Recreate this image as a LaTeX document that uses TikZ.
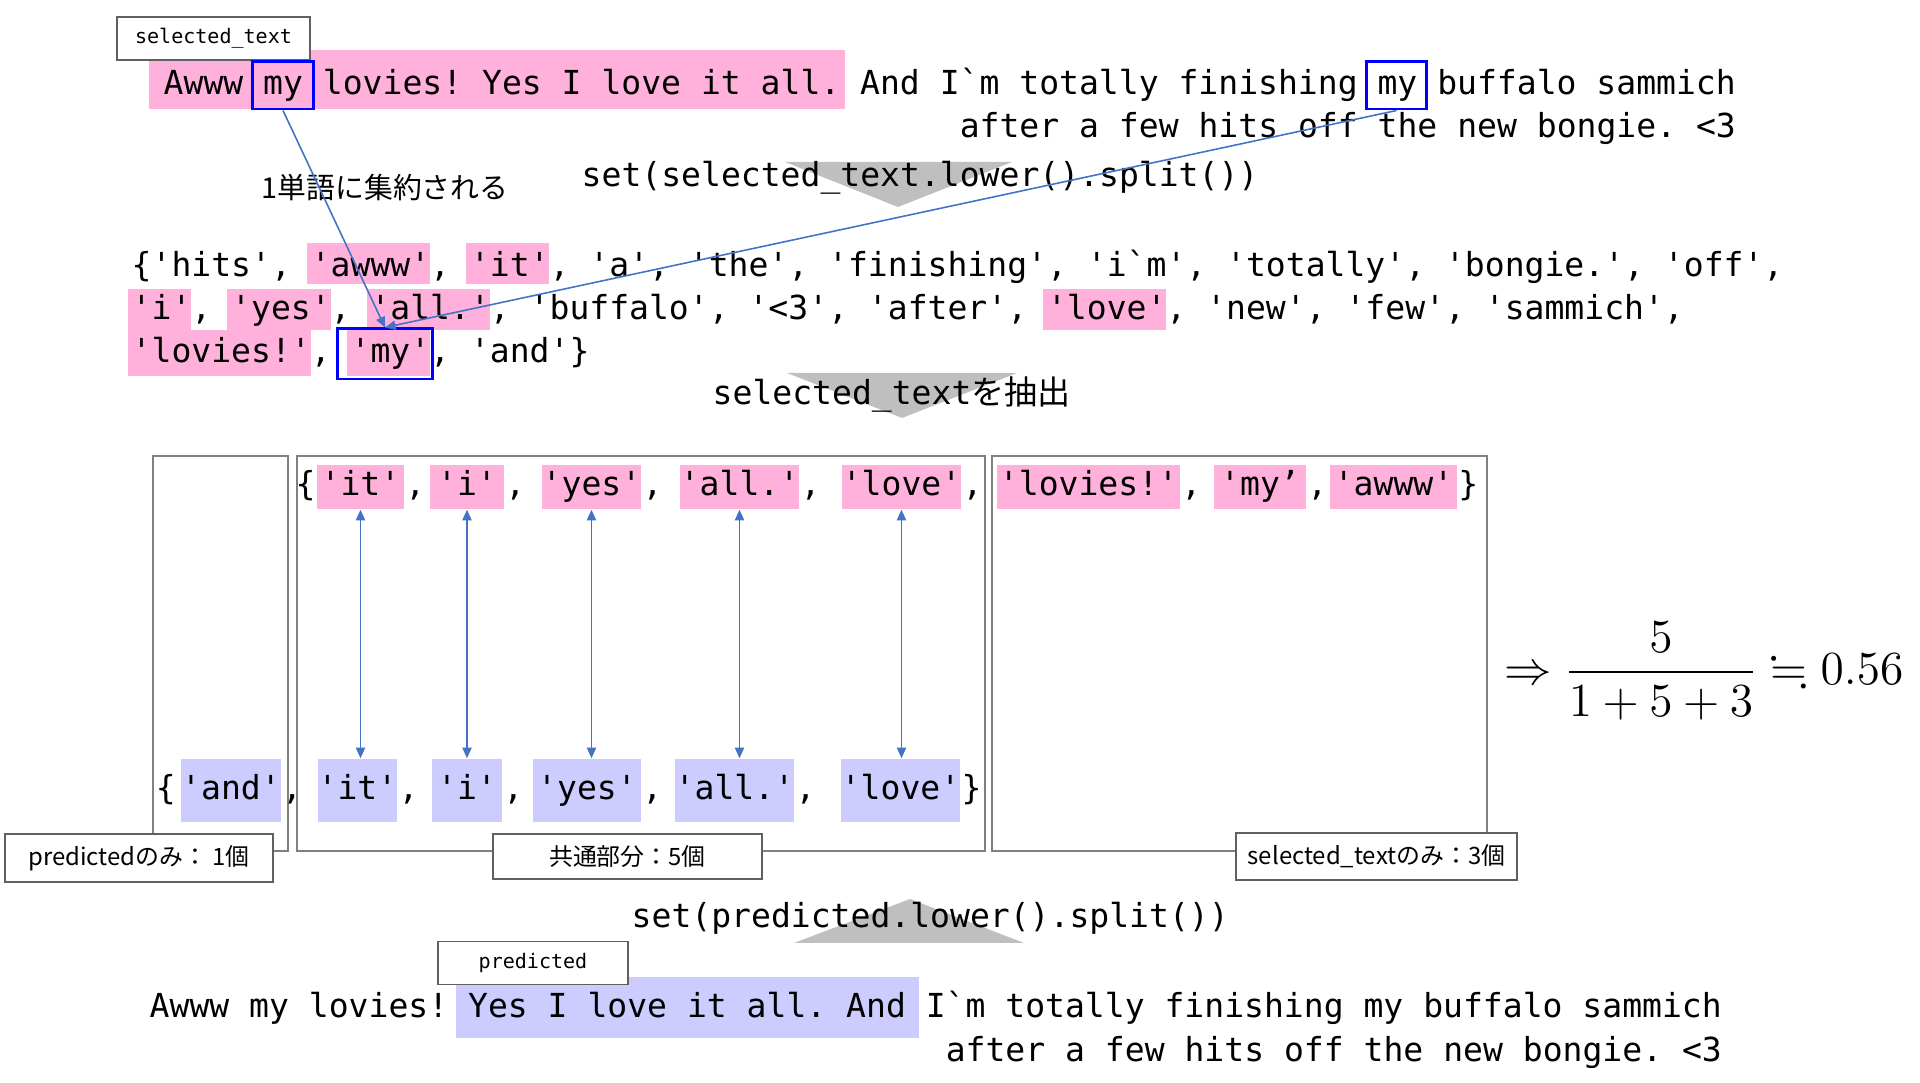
\RequirePackage{fix-cm}
\documentclass[tikz,border=0pt]{standalone}
\usepackage{amsmath, amssymb}
\usepackage{fontspec}
\setmonofont{DejaVu Sans Mono}
\newfontfamily\jpfont{Noto Sans CJK JP}
\usetikzlibrary{arrows.meta}

\definecolor{hlpink}{RGB}{255,177,219}
\definecolor{hlblue}{RGB}{204,204,255}
\definecolor{arrowblue}{RGB}{68,114,196}
\definecolor{trigray}{RGB}{191,191,191}
\definecolor{framegray}{RGB}{128,128,128}
\definecolor{taggray}{RGB}{96,96,96}

\newcommand\codefont{\fontsize{9.4pt}{11pt}\selectfont\ttfamily\frenchspacing}
\newcommand\tagfont{\fontsize{5.7pt}{7pt}\selectfont\ttfamily}
\newcommand\notefont{\fontsize{6.8pt}{8pt}\selectfont\jpfont}

\begin{document}
\begin{tikzpicture}[x=0.01cm, y=-0.01cm,
    code/.style={font=\codefont, inner sep=0pt},
    tokA/.style={code, fill=hlpink, text height=7.2pt, text depth=2.2pt, minimum height=0.44cm},
    tokB/.style={code, fill=hlblue, text height=7.2pt, text depth=2.2pt, minimum height=0.63cm},
    tag/.style={draw=taggray, line width=0.55pt, fill=white, font=\tagfont, minimum height=0.43cm},
    note/.style={draw=taggray, line width=0.55pt, fill=white, font=\notefont, minimum width=2.68cm, minimum height=0.43cm},
    mybox/.style={draw=blue, line width=0.85pt, inner sep=0pt},
    frame/.style={draw=framegray, line width=0.45pt},
    arr/.style={-{Triangle[length=3pt,width=2.6pt]}, line width=0.45pt, arrowblue},
    dbl/.style={{Triangle[length=3pt,width=2.6pt]}-{Triangle[length=3pt,width=2.6pt]}, line width=0.45pt, arrowblue},
]
\useasboundingbox (0,0) rectangle (1920,1083);

% --- selected_text ---
\fill[hlpink] (149,50) rectangle (845,109);
\node[code, anchor=base west] (sel1) at (163,95) {Awww my lovies! Yes I love it all. And I`m totally finishing my buffalo sammich};
\node[code, anchor=base east] (sel2) at (sel1.base east |- 0,138) {after a few hits off the new bongie. <3};
\node[tag, minimum width=1.93cm] (selTag) at (213.5,38.5) {selected\_text};
\node[mybox, minimum width=0.60cm, minimum height=0.47cm] (my1) at (283,85.5) {};
\node[mybox, minimum width=0.59cm, minimum height=0.47cm] (my2) at (1396.5,85.5) {};

\fill[trigray] (785,162) -- (1012,162) -- (898,207) -- cycle;
\node[code, anchor=base west] (split1) at (581,187) {set(selected\_text.lower().split())};
\node[font=\fontsize{8.2pt}{10pt}\selectfont\jpfont, inner sep=0pt, anchor=west] (merge) at (261,188) {1単語に集約される};

% --- set of words ---
\fill[hlpink] (307,243) rectangle (430,284);
\fill[hlpink] (466,243) rectangle (549,284);
\fill[hlpink] (128,289) rectangle (191,330);
\fill[hlpink] (227,289) rectangle (331,330);
\fill[hlpink] (367,289) rectangle (490,330);
\fill[hlpink] (1043,289) rectangle (1166,330);
\fill[hlpink] (128,330) rectangle (311,376);
\fill[hlpink] (347,330) rectangle (430,376);
\node[code, anchor=base west] (setA) at (131,277) {\{'hits', 'awww', 'it', 'a', 'the', 'finishing', 'i`m', 'totally', 'bongie.', 'off',};
\node[code, anchor=base west] (setB) at (131,320) {'i', 'yes', 'all.', 'buffalo', '<3', 'after', 'love', 'new', 'few', 'sammich',};
\node[code, anchor=base west] (setC) at (131,363) {'lovies!', 'my', 'and'\}};
\node[mybox, minimum width=0.94cm, minimum height=0.50cm] (my3) at (385,354) {};

\fill[trigray] (787,373) -- (1017,373) -- (902,418) -- cycle;
\node[code, anchor=base west] (pick) at (712,405) {selected\_text{\jpfont を抽出}};

% --- parts ---
\draw[frame] (153,456) rectangle (288,851);
\draw[frame] (297,456) rectangle (985,851);
\draw[frame] (992,456) rectangle (1487,851);

\foreach \n/\x/\w/\t in {u1/360.5/87/'it', u2/467/74/'i', u3/591.5/99/'yes', u4/739.5/119/'all.', u5/901.5/119/'love', u6/1088.5/183/'lovies!', u7/1260/92/'my’, u8/1393.5/127/'awww'}
    \node[tokA, minimum width=\w*0.01cm] (\n) at (\x,487) {\t};
\foreach \n in {u1,u2,u3,u4,u5,u6,u7}
    \node[code, anchor=base west] (\n-c) at (\n.base east) {,};
\node[code, anchor=base east] (uopen) at (u1.base west) {\{};
\node[code, anchor=base west] (uclose) at (u8.base east) {\}};

\foreach \n/\x/\w/\t in {l1/231/90/'and', l2/357.5/71/'it', l3/467/70/'i', l4/587/108/'yes', l5/734.5/119/'all.', l6/900.5/119/'love'}
    \node[tokB, minimum width=\w*0.01cm] (\n) at (\x,790.5) {\t};
\foreach \n in {l1,l2,l3,l4,l5}
    \node[code, anchor=base west] (\n-c) at (\n.base east) {,};
\node[code, anchor=base east, xshift=-0.04cm] (lopen) at (l1.base west) {\{};
\node[code, anchor=base west] (lclose) at (l6.base east) {\}};

\foreach \a/\b in {u1/l2, u2/l3, u3/l4, u4/l5, u5/l6}
    \draw[dbl] (\a.south) -- (\a.south |- \b.north);

\node[note] (onlyPred) at (139,858) {predictedのみ： 1個};
\node[note] (common) at (627.5,856.5) {共通部分：5個};
\node[note] (onlySel) at (1376.5,856.5) {selected\_textのみ：3個};

\node[font=\fontsize{13.5pt}{16pt}\selectfont, inner sep=0pt, anchor=east] (ratio) at (1904,671) {$\Rightarrow\displaystyle\frac{5}{1+5+3} \fallingdotseq 0.56$};

% --- predicted ---
\fill[trigray] (794,943) -- (1024,943) -- (910,899) -- cycle;
\node[code, anchor=base west] (split2) at (631,928) {set(predicted.lower().split())};

\fill[hlblue] (456,977) rectangle (919,1038);
\node[code, anchor=base west] (pred1) at (149,1018) {Awww my lovies! Yes I love it all. And I`m totally finishing my buffalo sammich};
\node[code, anchor=base east] (pred2) at (pred1.base east |- 0,1062) {after a few hits off the new bongie. <3};
\node[tag, minimum width=1.90cm] (predTag) at (533,963) {predicted};

% --- my -> 'my'
\draw[arr] (my1.south) -- (my3.north);
\draw[arr] (my2.south) -- (my3.north);

\end{tikzpicture}
\end{document}
